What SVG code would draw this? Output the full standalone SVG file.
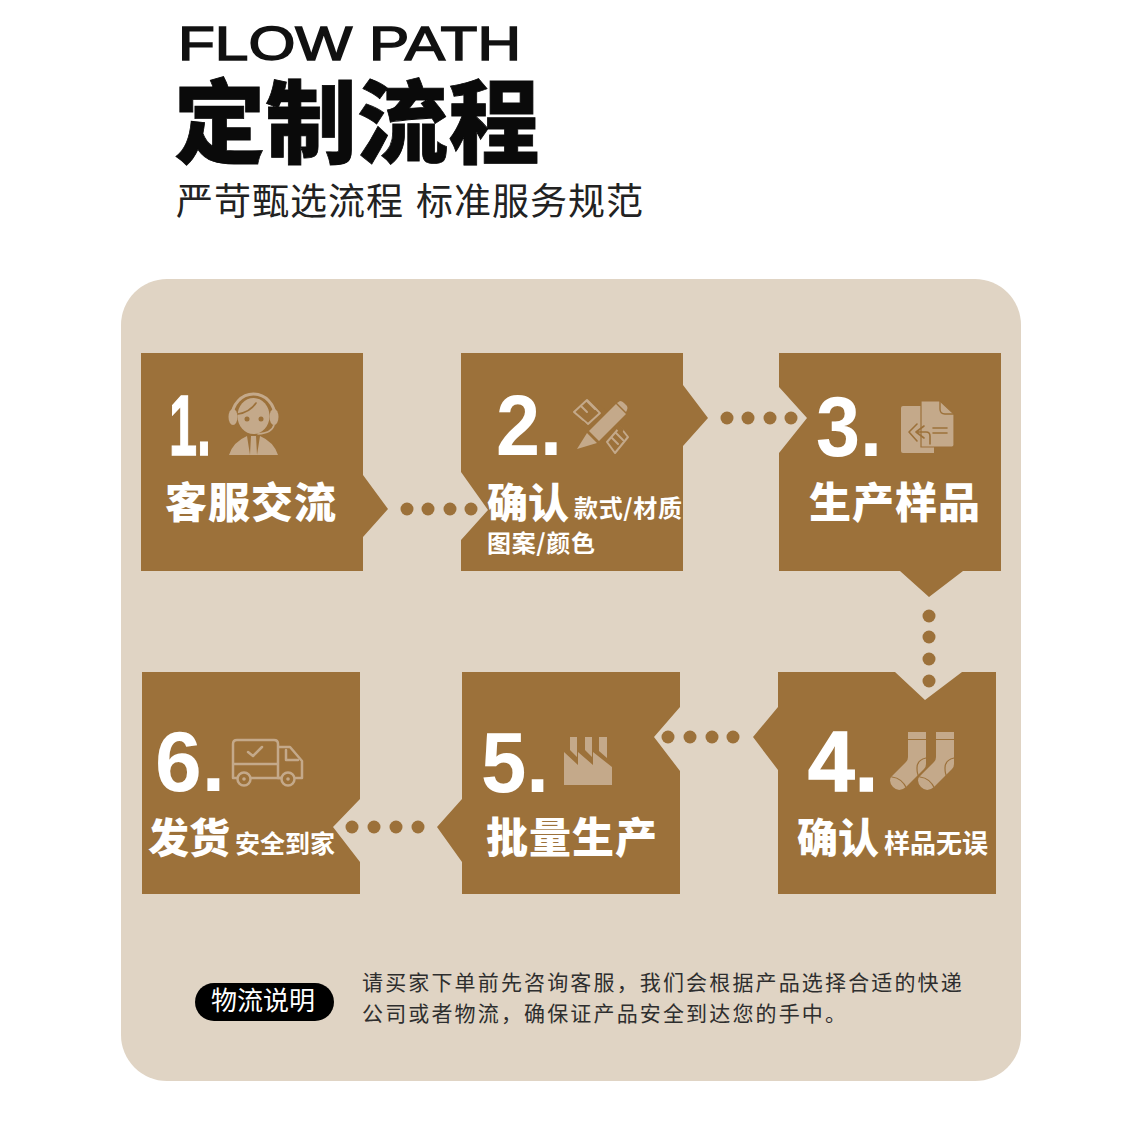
<svg xmlns="http://www.w3.org/2000/svg" width="1126" height="1126" viewBox="0 0 1126 1126">
<style>
.cjk{font-family:"Noto Sans CJK SC","Noto Sans",sans-serif}
.n{fill:#9c713a}
.d{fill:#9c713a}
.i{fill:#c4a98a}
.l{fill:none;stroke:#c4a98a;stroke-width:2.5;stroke-linejoin:round;stroke-linecap:round}
.b{fill:none;stroke:#9c713a;stroke-width:1.6;stroke-linecap:round;stroke-linejoin:round}
.num{font-family:"Liberation Sans",sans-serif;font-weight:700;font-size:86px;fill:#fff}
.big{font-weight:900;font-size:42px;fill:#fff;letter-spacing:1px}
.small{font-weight:700;font-size:24px;fill:#fff}
.foot{font-size:21px;fill:#2e2e2e;letter-spacing:2.15px}
</style>
<rect width="1126" height="1126" fill="#fff"/>
<g id="header">
<text x="178" y="60" font-family="'Liberation Sans',sans-serif" font-size="48" textLength="343" lengthAdjust="spacingAndGlyphs" fill="#111" stroke="#111" stroke-width="1.5">FLOW PATH</text>
<text class="cjk" x="174" y="156" font-size="91" font-weight="900" fill="#0a0a0a" stroke="#0a0a0a" stroke-width=".8" letter-spacing=".5">定制流程</text>
<text class="cjk" y="215" font-size="37" font-weight="400" fill="#222" letter-spacing="1"><tspan x="176">严苛甄选流程</tspan><tspan x="416">标准服务规范</tspan></text>
</g>
<rect id="panel" x="121" y="279" width="900" height="802" rx="46" fill="#e0d4c4"/>
<g id="connectors" class="d">
<circle cx="407" cy="509" r="6.5"/><circle cx="428" cy="509" r="6.5"/><circle cx="450" cy="509" r="6.5"/><circle cx="471" cy="509" r="6.5"/>
<circle cx="727" cy="418" r="6.5"/><circle cx="748" cy="418" r="6.5"/><circle cx="770" cy="418" r="6.5"/><circle cx="791" cy="418" r="6.5"/>
<circle cx="929" cy="616" r="6.5"/><circle cx="929" cy="637" r="6.5"/><circle cx="929" cy="659" r="6.5"/><circle cx="929" cy="681" r="6.5"/>
<circle cx="668" cy="737" r="6.5"/><circle cx="690" cy="737" r="6.5"/><circle cx="712" cy="737" r="6.5"/><circle cx="733" cy="737" r="6.5"/>
<circle cx="352" cy="827" r="6.5"/><circle cx="374" cy="827" r="6.5"/><circle cx="396" cy="827" r="6.5"/><circle cx="418" cy="827" r="6.5"/>
</g>
<g id="node1">
<path class="n" d="M141 353H363V475L388 509L363 537V571H141Z"/>
<text class="num" x="169" y="455" textLength="42" lengthAdjust="spacingAndGlyphs" stroke="#fff" stroke-width="1.5">1.</text>
<g>
<path class="l" d="M232 417A21.500 23 0 0 1 275 417" style="stroke-width:3"/>
<ellipse class="i" cx="233" cy="417" rx="4.500" ry="8"/><ellipse class="i" cx="274" cy="417" rx="4.500" ry="8"/>
<ellipse class="i" cx="253.500" cy="416" rx="16" ry="18"/>
<circle class="d" cx="247" cy="419" r="2.500"/><circle class="d" cx="261" cy="419" r="2.500"/>
<path class="b" d="M238 414Q250 412 256 403"/>
<path class="i" d="M229 455Q233 442 247 436L250 455ZM278 455Q274 442 260 436L257 455ZM251 436H256L257 455H250Z"/>
<path class="l" d="M274 425Q272 433 258 434" style="stroke-width:1.6"/>
</g>
<text class="cjk big" x="165" y="518">客服交流</text>
</g>
<g id="node2">
<path class="n" d="M461 353H683V385L708 418L683 446V571H461V540L488 510L461 472Z"/>
<text class="num" x="496" y="455" textLength="66" lengthAdjust="spacingAndGlyphs">2.</text>
<g>
<path class="l" d="M574 412L587 400L600 413L588 424ZM581 406L587 412M587 401L595 409" style="stroke-width:2"/>
<path class="l" d="M607 442L620 427L628 437L615 453ZM612 438L618 444M616 433L623 440" style="stroke-width:2"/>
<path class="b" d="M583 424L604 446" style="stroke-width:5"/>
<path class="b" d="M600 408L621 430" style="stroke-width:5"/>
<path class="i" d="M577 449L587 433L597 443ZM589 431L616 404L626 414L599 441Z"/>
<path class="i" d="M617 403L620 401Q622 401 624 403L627 406Q628 408 627 410L626 412Z"/>
</g>
<text class="cjk big" x="487" y="518" style="font-size:41px;letter-spacing:0">确认</text>
<text class="cjk small" x="574" y="517" textLength="108" lengthAdjust="spacing">款式/材质</text>
<text class="cjk small" x="487" y="552" textLength="108" lengthAdjust="spacing">图案/颜色</text>
</g>
<g id="node3">
<path class="n" d="M779 353H1001V571H963L929 597L900 571H779V453L807 418L779 387Z"/>
<text class="num" x="816" y="456" textLength="66" lengthAdjust="spacingAndGlyphs">3.</text>
<g>
<path class="i" d="M901 408Q901 406 903 406H934V453H903Q901 453 901 451Z"/>
<path class="i" stroke="#9c713a" stroke-width="1.200" d="M921 401H940L954 414V445Q954 447 952 447H921Z"/>
<path class="b" d="M940 401V409Q940 414 945 414H954" style="stroke-width:1.4"/>
<path class="b" d="M917 424L909 432L917 441M924 426L916 432L924 438M916 432H926Q930 432 930 436V444M933 428H947M933 433H947"/>
</g>
<text class="cjk big" x="809" y="518">生产样品</text>
</g>
<g id="node4">
<path class="n" d="M778 672H895L925 700L962 672H996V894H778V770L753 737L778 707Z"/>
<text class="num" x="808" y="791" textLength="70" lengthAdjust="spacingAndGlyphs" stroke="#fff" stroke-width="1.5">4.</text>
<g>
<path class="i" d="M908 732H926V764Q926 767 924 769L906 787Q899 793 893 787Q887 780 893 775L906 762Q908 760 908 757Z"/>
<path class="b" d="M908 739.500H926M926 758Q917 760 917 768Q917 774 919 777M892 777Q902 778 907 789" style="stroke-width:1.2"/>
<path class="i" d="M936 732H954V764Q954 767 952 769L934 787Q927 793 921 787Q915 780 921 775L934 762Q936 760 936 757Z"/>
<path class="b" d="M936 739.500H954M954 758Q945 760 945 768Q945 774 947 777M920 777Q930 778 935 789" style="stroke-width:1.2"/>
</g>
<text class="cjk big" x="797" y="853" style="font-size:41px;letter-spacing:0">确认</text>
<text class="cjk small" x="884" y="853" style="font-size:26px">样品无误</text>
</g>
<g id="node5">
<path class="n" d="M462 672H680V707L654 737L680 771V894H462V862L437 827L462 799Z"/>
<text class="num" x="481" y="792" textLength="68" lengthAdjust="spacingAndGlyphs">5.</text>
<g class="i">
<path d="M564 752L578 765V752L593 765V752L612 767V785H564Z"/>
<path d="M570 737H577V757L570 750ZM585 737H592V757L585 750ZM599 737H607V758L599 751Z"/>
</g>
<text class="cjk big" x="486" y="853">批量生产</text>
</g>
<g id="node6">
<path class="n" d="M142 672H360V799L333 827L360 862V894H142Z"/>
<text class="num" x="155" y="791" textLength="70" lengthAdjust="spacingAndGlyphs">6.</text>
<g>
<path class="l" d="M237 778H233V744Q233 740 237 740H274Q278 740 278 744V778H281M233 764H278M248 752L253 756L262 747M278 747H290L302 761V778H296"/>
<path class="l" d="M286 750V760H298"/>
<circle class="l" cx="244" cy="779" r="6.500"/><circle class="i" cx="244" cy="779" r="1.800"/>
<circle class="l" cx="288" cy="779" r="6.500"/><circle class="i" cx="288" cy="779" r="1.800"/>
<path class="l" d="M251 778H281"/>
</g>
<text class="cjk big" x="148" y="853" style="font-size:41px;letter-spacing:0">发货</text>
<text class="cjk small" x="235" y="853" style="font-size:25px">安全到家</text>
</g>
<g id="footer">
<rect x="195" y="983" width="139" height="38" rx="19" fill="#000"/>
<text class="cjk" x="211" y="1010" font-size="26" fill="#fff">物流说明</text>
<text class="cjk foot" x="362" y="990">请买家下单前先咨询客服，我们会根据产品选择合适的快递</text>
<text class="cjk foot" x="362" y="1021">公司或者物流，确保证产品安全到达您的手中。</text>
</g>
</svg>
